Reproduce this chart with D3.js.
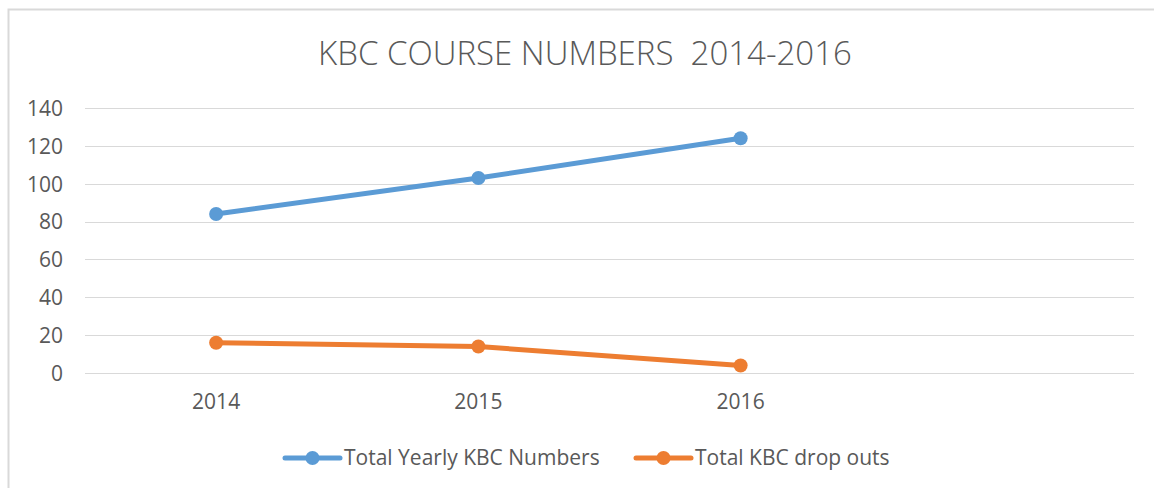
<!DOCTYPE html>
<html>
<head>
<meta charset="utf-8">
<script src="https://cdn.jsdelivr.net/npm/d3@7"></script>
<style>
  body { margin: 0; background: #fff; }
  svg text { font-family: "Open Sans", "Liberation Sans", sans-serif; fill: #595959; white-space: pre; }
</style>
</head>
<body>
<div id="drawing_region"></div>
<script>
// chart data
const categories = ["2014", "2015", "2016", ""];
const yearlyNumbers = [84, 103, 124];
const dropOuts = [16, 14, 4];
const seriesNames = ["Total Yearly KBC Numbers", "Total KBC drop outs"];
const yTicks = [0, 20, 40, 60, 80, 100, 120, 140];
const titleText = "KBC COURSE NUMBERS  2014-2016";

const width = 1154, height = 488;
const margin = {top: 108, right: 20, bottom: 115, left: 85};
const colors = ["#5b9bd5", "#ed7d31"];

const svg = d3.select('#drawing_region')
    .append('svg')
    .attr('width', width)
    .attr('height', height);

// chart border (cut off on the right / bottom like the picture)
svg.append('rect')
    .attr('x', 8.5).attr('y', 9.5)
    .attr('width', width + 20).attr('height', height + 20)
    .attr('fill', 'none')
    .attr('stroke', '#d9d9d9')
    .attr('stroke-width', 2);

svg.append('text')
    .attr('x', 585).attr('y', 65)
    .attr('text-anchor', 'middle')
    .style('font-size', '33px')
    .style('font-weight', 300)
    .text(titleText);

const inner_width = 1134 - margin.left;
const inner_height = 373 - margin.top;

const chart = svg.append('g')
    .attr('transform', `translate(${margin.left}, ${margin.top})`);

const xscale = d3.scaleBand().domain(categories).range([0, inner_width]);
const yscale = d3.scaleLinear().domain([0, 140]).range([inner_height, 0]);

// gridlines
chart.append('g')
    .selectAll('line')
    .data(yTicks)
    .join('line')
    .attr('x1', 0).attr('x2', inner_width)
    .attr('y1', d => Math.round(yscale(d)) + 0.5)
    .attr('y2', d => Math.round(yscale(d)) + 0.5)
    .attr('stroke', '#d9d9d9')
    .attr('stroke-width', 1);

// y axis labels
const yaxis = chart.append('g')
    .attr('transform', 'translate(-22, 0)')
    .call(d3.axisLeft(yscale).tickValues(yTicks).tickSize(0).tickPadding(0));
yaxis.select('.domain').remove();
yaxis.selectAll('text')
    .style('font-size', '21px')
    .attr('dy', '0.35em');

// x axis labels
const xaxis = chart.append('g')
    .attr('transform', `translate(0, ${inner_height + 21})`)
    .call(d3.axisBottom(xscale).tickSize(0).tickPadding(0));
xaxis.select('.domain').remove();
xaxis.selectAll('text')
    .style('font-size', '21px')
    .attr('dy', '0.71em');

const line = d3.line()
    .x((d, i) => xscale(categories[i]) + xscale.bandwidth() / 2)
    .y(d => yscale(d));

[yearlyNumbers, dropOuts].forEach((vals, s) => {
    chart.append('path')
        .attr('d', line(vals))
        .attr('fill', 'none')
        .attr('stroke', colors[s])
        .attr('stroke-width', 5)
        .attr('stroke-linejoin', 'round')
        .attr('stroke-linecap', 'round');
    chart.append('g')
        .selectAll('circle')
        .data(vals)
        .join('circle')
        .attr('cx', (d, i) => xscale(categories[i]) + xscale.bandwidth() / 2)
        .attr('cy', d => yscale(d))
        .attr('r', 7)
        .attr('fill', colors[s]);
});

// legend
const legendX = [285, 636];
const legend = svg.append('g').attr('transform', 'translate(0, 458)');
seriesNames.forEach((name, s) => {
    const g = legend.append('g').attr('transform', `translate(${legendX[s]}, 0)`);
    g.append('line')
        .attr('x1', 0).attr('x2', 55)
        .attr('stroke', colors[s])
        .attr('stroke-width', 5)
        .attr('stroke-linecap', 'round');
    g.append('circle').attr('cx', 27.5).attr('r', 7).attr('fill', colors[s]);
    g.append('text')
        .attr('x', 59).attr('dy', '0.35em')
        .style('font-size', '21px')
        .text(name);
});
</script>
</body>
</html>
